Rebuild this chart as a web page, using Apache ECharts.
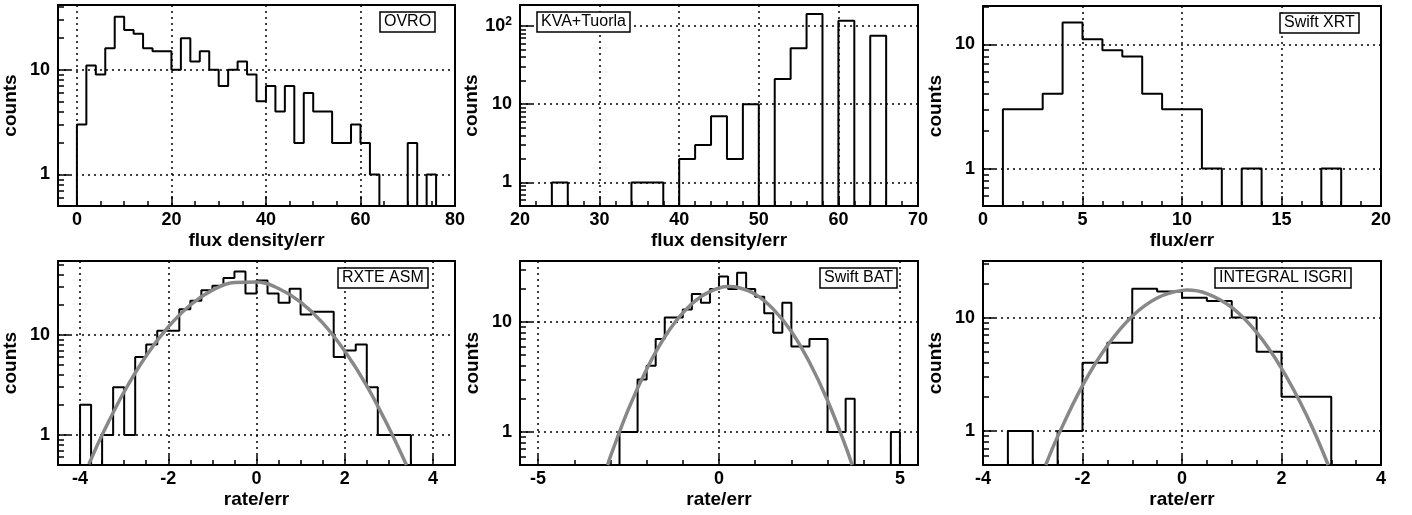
<!DOCTYPE html>
<html>
<head>
<meta charset="utf-8">
<script src="https://cdn.jsdelivr.net/npm/echarts@6/dist/echarts.min.js"></script>
<style>html,body{margin:0;padding:0;background:#fff}#main{width:1412px;height:515px}</style>
</head>
<body>
<div id="main"></div>
<script>
// histogram counts, one per bin (start, bin width)
var ovroStart = 0, ovroWidth = 2;
var ovroCounts = [3,11,9,16,32,24,22,16,15,15,10,20,12,15,10,7,10,12,9,5,7,4,7,2,6,4,4,2,2,3,2,1,0,0,0,2,0,1];
var kvaStart = 20, kvaWidth = 2;
var kvaCounts = [0,0,1,0,0,0,0,1,1,0,2,3,7,2,10,0,21,52,142,0,116,0,75];
var xrtStart = 0, xrtWidth = 1;
var xrtCounts = [0,3,3,4,15,11,9,8,4,3,3,1,0,1,0,0,0,1,0,0];
var asmStart = -4, asmWidth = 0.25;
var asmCounts = [2,0,1,3,1,6,8,11,11,18,22,28,31,37,43,26,35,26,21,29,16,17,17,6,7,8,3,1,1,1];
var batStart = -2.75, batWidth = 0.25;
var batCounts = [1,1,3,4,7,11,11,13,18,15,20,26,20,28,20,17,12,8,15,6,6,7,7,1,1,2,0,0,0,0,1];
var isgriStart = -3.5, isgriWidth = 0.5;
var isgriCounts = [1,0,1,4,6,18,17,15,14,10,5,2,2];

// fitted gaussian curves [x, counts]
var asmFit = [[-3.8,0.51],[-3.5,1.0],[-3,2.7],[-2.5,6.2],[-2,12.0],[-1.5,19.9],[-1,28.0],[-0.5,33.4],[0,33.8],[0.5,29.1],[1,21.3],[1.5,13.2],[2,6.9],[2.5,3.1],[3,1.18],[3.4,0.5]];
var batFit = [[-3.08,0.5],[-3,0.6],[-2.5,1.62],[-2,3.72],[-1.5,7.3],[-1,12.1],[-0.5,17.0],[0,20.4],[0.3,21],[0.5,20.7],[1,17.9],[1.5,13.1],[2,8.2],[2.5,4.3],[3,1.93],[3.5,0.74],[3.68,0.5]];
var isgriFit = [[-2.74,0.5],[-2.5,0.89],[-2,2.51],[-1.5,5.67],[-1,10.3],[-0.5,14.9],[0,17.4],[0.1,17.5],[0.5,16.3],[1,12.3],[1.5,7.4],[2,3.57],[2.5,1.39],[2.94,0.5]];

var FONT = 'Liberation Sans';

function stepData(start, w, counts, floor) {
  var d = [[start, floor]];
  for (var i = 0; i < counts.length; i++) {
    d.push([start + i * w, Math.max(counts[i], floor)]);
  }
  d.push([start + counts.length * w, floor]);
  return d;
}
function range(a, b, s) {
  var r = [];
  for (var v = a; v <= b + 1e-9; v += s) r.push(Math.round(v * 1000) / 1000);
  return r;
}
function logMinor(lo, hi) {
  var r = [];
  [0.1, 1, 10, 100].forEach(function (d) {
    for (var k = 2; k <= 9; k++) { var v = k * d; if (v >= lo && v <= hi) r.push(v); }
  });
  return r;
}

var panels = [
  {l:57, t:5, b:206, xmin:-4, xmax:80, major:[0,20,40,60,80], minor:range(0,80,5), ymax:41.5, yl:[1,10], name:'flux density/err', label:'OVRO', lx:380, ly:12, s:ovroStart, w:ovroWidth, c:ovroCounts},
  {l:520, t:5, b:206, xmin:20, xmax:70, major:[20,30,40,50,60,70], minor:range(20,70,2), ymax:185, yl:[1,10,100], name:'flux density/err', label:'KVA+Tuorla', lx:537, ly:12, s:kvaStart, w:kvaWidth, c:kvaCounts},
  {l:983, t:6, b:206, xmin:0, xmax:20, major:[0,5,10,15,20], minor:range(0,20,1), ymax:20.4, yl:[1,10], name:'flux/err', label:'Swift XRT', lx:1280, ly:13, s:xrtStart, w:xrtWidth, c:xrtCounts},
  {l:57, t:261, b:465, xmin:-4.5, xmax:4.5, major:[-4,-2,0,2,4], minor:range(-4.5,4.5,0.5), ymax:54.8, yl:[1,10], name:'rate/err', label:'RXTE ASM', lx:338, ly:268, s:asmStart, w:asmWidth, c:asmCounts, fit:asmFit},
  {l:520, t:261, b:465, xmin:-5.5, xmax:5.5, major:[-5,0,5], minor:range(-5,5,1), ymax:35.9, yl:[1,10], name:'rate/err', label:'Swift BAT', lx:820, ly:268, s:batStart, w:batWidth, c:batCounts, fit:batFit},
  {l:983, t:261, b:465, xmin:-4, xmax:4, major:[-4,-2,0,2,4], minor:range(-4,4,0.5), ymax:31.6, yl:[1,10], name:'rate/err', label:'INTEGRAL ISGRI', lx:1215, ly:268, s:isgriStart, w:isgriWidth, c:isgriCounts, fit:isgriFit}
];

var grid = [], xAxis = [], yAxis = [], series = [], title = [];
panels.forEach(function (p, i) {
  grid.push({left:p.l, width:398, top:p.t, height:p.b - p.t, show:true, borderColor:'#000', borderWidth:2, backgroundColor:'#fff'});
  var lab = {fontFamily:FONT, fontWeight:'bold', fontSize:18, color:'#000'};
  var nameStyle = {fontFamily:FONT, fontWeight:'bold', fontSize:19, color:'#000'};
  xAxis.push({
    gridIndex:i, type:'value', min:p.xmin, max:p.xmax, name:p.name, nameLocation:'middle', nameGap:25,
    nameTextStyle:nameStyle,
    axisLine:{onZero:false, lineStyle:{color:'#000', width:2}},
    axisTick:{inside:true, length:10, customValues:p.major, lineStyle:{color:'#000', width:1.5}},
    axisLabel:Object.assign({customValues:p.major, margin:5}, lab),
    splitLine:{show:true, lineStyle:{color:'#000', type:[2,4], width:1.5}}
  });
  xAxis.push({
    gridIndex:i, type:'value', min:p.xmin, max:p.xmax, position:'bottom',
    axisLine:{show:true, onZero:false, lineStyle:{opacity:0}},
    axisLabel:{show:false, customValues:p.minor}, splitLine:{show:false},
    axisTick:{show:true, inside:true, length:5, customValues:p.minor, lineStyle:{color:'#000', width:1.5}}
  });
  yAxis.push({
    gridIndex:i, type:'log', min:0.5, max:p.ymax, name:'counts', nameLocation:'middle', nameGap:38, nameRotate:90,
    nameTextStyle:nameStyle,
    axisLine:{onZero:false, lineStyle:{color:'#000', width:2}},
    axisTick:{inside:true, length:12, customValues:p.yl, lineStyle:{color:'#000', width:1.5}},
    axisLabel:Object.assign({customValues:p.yl, margin:8,
      formatter:function (v) { v = Math.round(v); return v === 100 ? '10{s|2}' : String(v); },
      rich:{s:{fontFamily:FONT, fontWeight:'bold', fontSize:12, color:'#000', verticalAlign:'top', padding:[0,0,8,0]}}}, lab),
    splitLine:{show:true, lineStyle:{color:'#000', type:[2,4], width:1.5}}
  });
  yAxis.push({
    gridIndex:i, type:'log', min:0.5, max:p.ymax, position:'left',
    axisLine:{show:true, onZero:false, lineStyle:{opacity:0}},
    axisLabel:{show:false, customValues:logMinor(0.5, p.ymax)}, splitLine:{show:false},
    axisTick:{show:true, inside:true, length:6, customValues:logMinor(0.5, p.ymax), lineStyle:{color:'#000', width:1.5}}
  });
  series.push({
    type:'line', xAxisIndex:2 * i, yAxisIndex:2 * i, step:'end', symbol:'none',
    data:stepData(p.s, p.w, p.c, 0.5), lineStyle:{color:'#000', width:2}, z:3
  });
  if (p.fit) {
    series.push({
      type:'line', xAxisIndex:2 * i, yAxisIndex:2 * i, smooth:0.4, symbol:'none',
      data:p.fit, lineStyle:{color:'#888', width:3.5}, z:4
    });
  }
  title.push({
    text:p.label, left:p.lx, top:p.ly, padding:[2,4], borderColor:'#000', borderWidth:1.5, backgroundColor:'#fff',
    textStyle:{fontFamily:FONT, fontWeight:'normal', fontSize:16, color:'#000'}
  });
});

var chart = echarts.init(document.getElementById('main'));
chart.setOption({animation:false, title:title, grid:grid, xAxis:xAxis, yAxis:yAxis, series:series});
</script>
</body>
</html>
